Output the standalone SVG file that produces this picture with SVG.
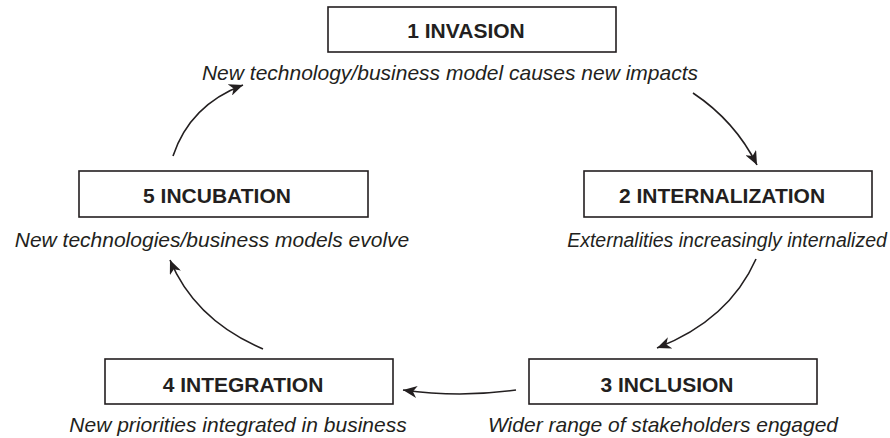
<svg xmlns="http://www.w3.org/2000/svg" width="890" height="438" viewBox="0 0 890 438">
<style>
.box{fill:#fff;stroke:#231f20;stroke-width:1.6}
.t{font-family:"Liberation Sans",Arial,sans-serif;font-weight:bold;font-size:21px;fill:#231f20;text-anchor:middle}
.s{font-family:"Liberation Sans",Arial,sans-serif;font-style:italic;font-size:21px;fill:#231f20;text-anchor:middle}
.c{fill:none;stroke:#231f20;stroke-width:1.6}
</style>
<defs>
<marker id="ah" markerUnits="userSpaceOnUse" markerWidth="16" markerHeight="12" refX="14" refY="6" orient="auto">
<path d="M0,0 L14,6 L0,12 L4,6 Z" fill="#231f20"/>
</marker>
</defs>
<rect width="890" height="438" fill="#fff"/>
<g id="connectors">
<path class="c" d="M173,156 Q190,105 243,85" marker-end="url(#ah)"/>
<path class="c" d="M693,93 Q735,121 757,165" marker-end="url(#ah)"/>
<path class="c" d="M756,259 Q729,320 657,348" marker-end="url(#ah)"/>
<path class="c" d="M516,390 Q460,398 403,390" marker-end="url(#ah)"/>
<path class="c" d="M263,349 Q195,320 170,260" marker-end="url(#ah)"/>
</g>
<g id="node1">
<rect class="box" x="328" y="7" width="288" height="45"/>
<text class="t" x="466" y="38">1 INVASION</text>
<text class="s" x="450" y="80">New technology/business model causes new impacts</text>
</g>
<g id="node2">
<rect class="box" x="584" y="171" width="288" height="46"/>
<text class="t" x="722" y="203">2 INTERNALIZATION</text>
<text class="s" x="727" y="247" style="font-size:19.5px">Externalities increasingly internalized</text>
</g>
<g id="node3">
<rect class="box" x="529" y="359" width="288" height="45"/>
<text class="t" x="667" y="392">3 INCLUSION</text>
<text class="s" x="663" y="432">Wider range of stakeholders engaged</text>
</g>
<g id="node4">
<rect class="box" x="105" y="359" width="288" height="45"/>
<text class="t" x="243" y="392">4 INTEGRATION</text>
<text class="s" x="238" y="432">New priorities integrated in business</text>
</g>
<g id="node5">
<rect class="box" x="79" y="171" width="289" height="46"/>
<text class="t" x="217" y="203">5 INCUBATION</text>
<text class="s" x="212" y="247">New technologies/business models evolve</text>
</g>
</svg>
